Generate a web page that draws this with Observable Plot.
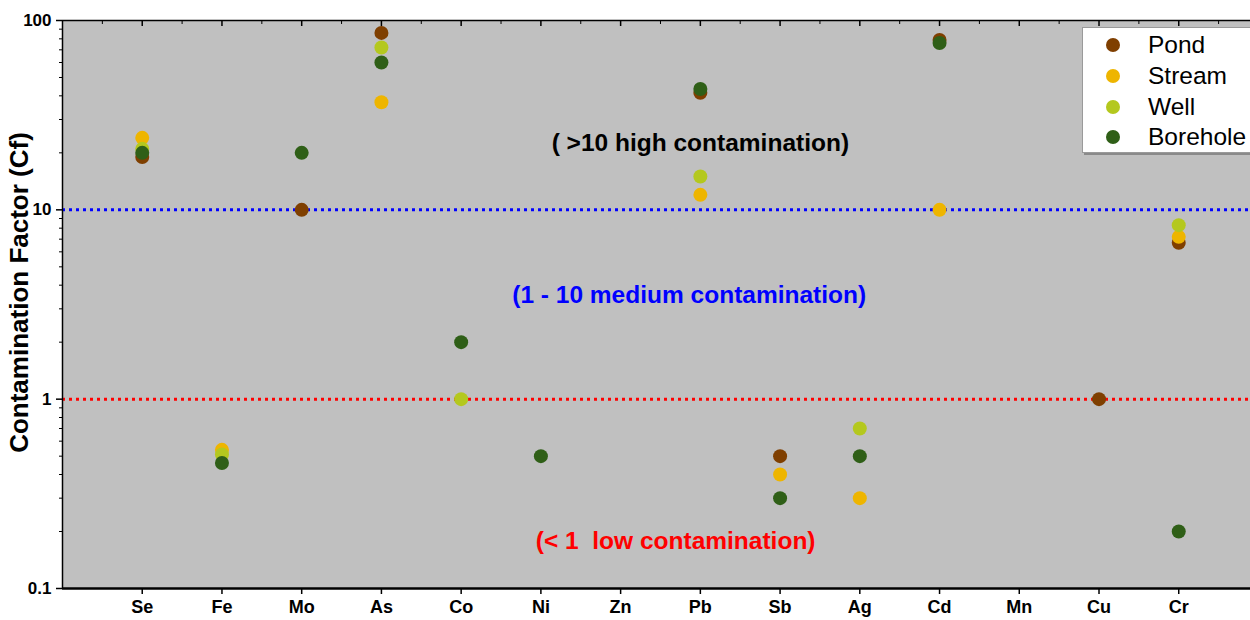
<!DOCTYPE html>
<html><head><meta charset="utf-8">
<script src="https://cdn.jsdelivr.net/npm/d3@7"></script>
<script src="https://cdn.jsdelivr.net/npm/@observablehq/plot@0.6"></script>
<style>
body{margin:0;background:#fff;font-family:"Liberation Sans",Arial,sans-serif;}
#wrap{position:relative;width:1250px;height:620px;overflow:hidden;}
#legend{position:absolute;left:1082px;top:27px;width:180px;height:126px;background:#fff;border:1px solid #9a9a9a;box-shadow:2px 2px 0 #8a8a8a;box-sizing:border-box;}
.item{position:absolute;left:0;height:30px;display:flex;align-items:center;font-size:24.5px;color:#000;}
.sw{width:14px;height:14px;border-radius:50%;margin-left:23px;margin-right:28px;}
</style></head><body><div id="wrap"></div>
<script>
const elements = ["Se","Fe","Mo","As","Co","Ni","Zn","Pb","Sb","Ag","Cd","Mn","Cu","Cr"];
const series = ["Pond","Stream","Well","Borehole"];
const colors = ["#7f3f00","#eeb500","#b4c81e","#2f5f17"];
const pond     = [19,   null, 10,   86, null, null, null, 41.5, 0.5, null, 79,   null, 1.0,  6.7];
const stream   = [24,   0.54, null, 37, null, null, null, 12,   0.4, 0.3,  10,   null, null, 7.2];
const well     = [21,   0.51, null, 72, 1.0,  null, null, 15,   null, 0.7, null, null, null, 8.3];
const borehole = [20,   0.46, 20,   60, 2.0,  0.5,  null, 43.5, 0.3, 0.5,  76,   null, null, 0.2];
const yMajor = [0.1, 1, 10, 100];
const yMinor = [0.2,0.3,0.4,0.5,0.6,0.7,0.8,0.9,2,3,4,5,6,7,8,9,20,30,40,50,60,70,80,90];
const thresholds = [10, 1];
const thresholdColors = ["#0000ff", "#ff0000"];
const annText = ["( >10 high contamination)", "(1 - 10 medium contamination)", "(< 1\u00a0 low contamination)"];
const annX = [7.0, 6.86, 6.69];
const annY = [22.6, 3.55, 0.177];
const annColor = ["#000000", "#0000ff", "#ff0000"];

const valueSets = [pond, stream, well, borehole];
const rows = [];
series.forEach((s, k) => valueSets[k].forEach((v, i) => { if (v != null) rows.push({series: s, i, v}); }));
const ann = annText.map((t, k) => ({t, x: annX[k], y: annY[k], c: annColor[k]}));
const thr = thresholds.map((v, k) => ({v, c: thresholdColors[k]}));
const idx = d3.range(elements.length);
const mids = idx.map(i => i + 0.5).concat([-0.5]);

const chart = Plot.plot({
  width: 1250, height: 620,
  marginLeft: 62, marginRight: 0, marginTop: 20, marginBottom: 32,
  style: {fontFamily: "'Liberation Sans', Arial, sans-serif", background: "transparent", color: "#000"},
  x: {type: "linear", domain: [-1, 13.9]},
  y: {type: "log", domain: [0.1, 100]},
  color: {domain: series, range: colors},
  marks: [
    Plot.frame({fill: "#c0c0c0", stroke: null}),
    Plot.ruleY(thr, {y: "v", stroke: "c", strokeWidth: 3, strokeDasharray: "3,4"}),
    Plot.text(ann, {x: "x", y: "y", text: "t", fill: "c", fontSize: 24.5, fontWeight: "bold"}),
    Plot.dot(rows, {x: "i", y: "v", fill: "series", r: 7}),
    Plot.axisY({ticks: yMajor, tickFormat: d => String(d), tickSize: 6, tickPadding: 5, fontSize: 17, fontWeight: "bold", label: null, strokeWidth: 1.5}),
    Plot.axisY({ticks: yMinor, tickSize: 3, text: null, label: null}),
    Plot.axisX({ticks: idx, tickFormat: i => elements[i], tickSize: 6, tickPadding: 6, fontSize: 18, fontWeight: "bold", label: null, strokeWidth: 1.5}),
    Plot.axisX({anchor: "top", ticks: idx, tickSize: -5, text: null, label: null, strokeWidth: 1.5}),
    Plot.axisX({anchor: "top", ticks: mids, tickSize: -3, text: null, label: null}),
    Plot.ruleY([0.1], {stroke: "#000", strokeWidth: 2.5}),
    Plot.ruleY([100], {stroke: "#000", strokeWidth: 1.5}),
    Plot.ruleX([-1], {stroke: "#000", strokeWidth: 1.5}),
    Plot.text(["Contamination Factor (Cf)"], {text: d => d, frameAnchor: "left", textAnchor: "middle", rotate: -90, dx: -43, dy: -12, fontSize: 26, fontWeight: "bold"})
  ]
});
const wrap = document.getElementById("wrap");
wrap.appendChild(chart);
const lg = document.createElement("div");
lg.id = "legend";
series.forEach((s, k) => {
  const it = document.createElement("div");
  it.className = "item";
  it.style.top = (2 + k * 30.8) + "px";
  const sw = document.createElement("span");
  sw.className = "sw";
  sw.style.background = colors[k];
  const tx = document.createElement("span");
  tx.textContent = s;
  it.appendChild(sw); it.appendChild(tx);
  lg.appendChild(it);
});
wrap.appendChild(lg);
</script></body></html>
